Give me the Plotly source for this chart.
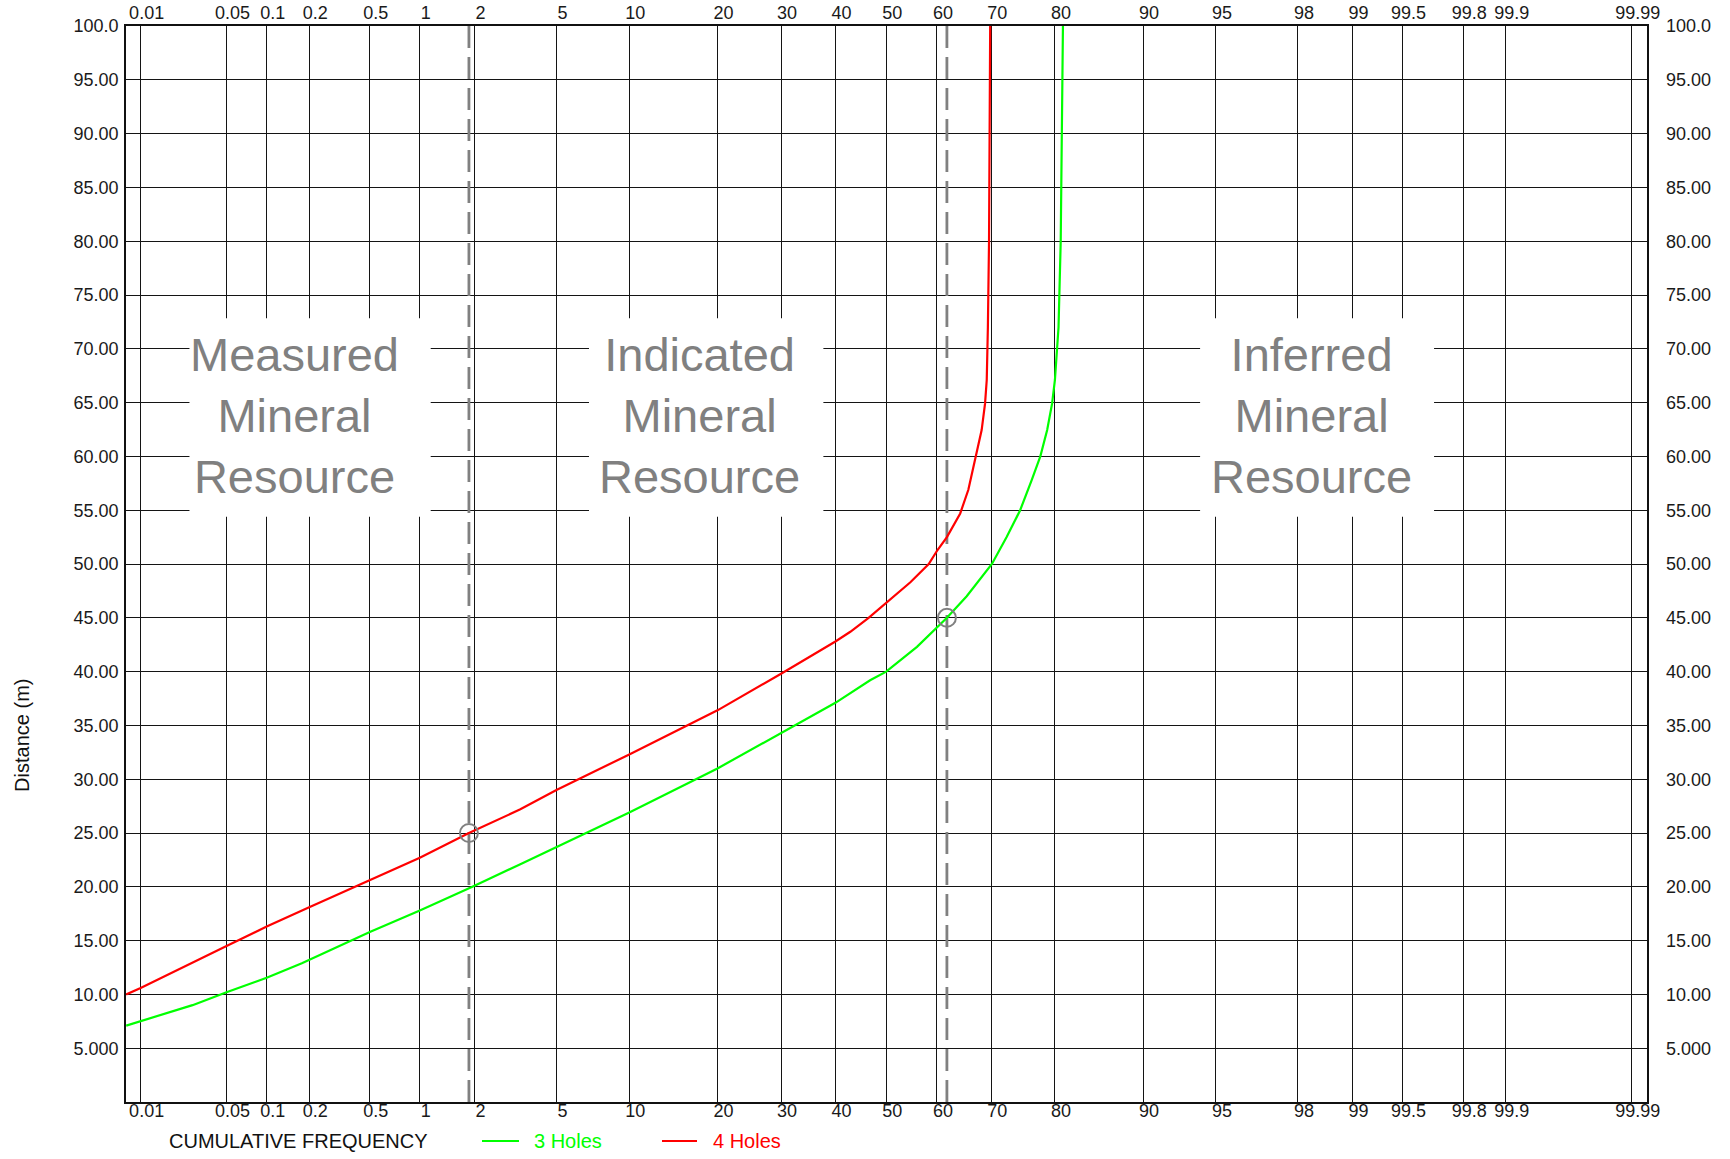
import plotly.graph_objects as go
from statistics import NormalDist

_nd = NormalDist()


def z(p):
    return _nd.inv_cdf(p / 100.0)


# ---------------- data ----------------
prob_ticks = [0.01, 0.05, 0.1, 0.2, 0.5, 1, 2, 5, 10, 20, 30, 40, 50, 60, 70, 80,
              90, 95, 98, 99, 99.5, 99.8, 99.9, 99.99]
prob_labels = ["0.01", "0.05", "0.1", "0.2", "0.5", "1", "2", "5", "10", "20", "30",
               "40", "50", "60", "70", "80", "90", "95", "98", "99", "99.5", "99.8",
               "99.9", "99.99"]
dist_ticks = [5, 10, 15, 20, 25, 30, 35, 40, 45, 50, 55, 60, 65, 70, 75, 80, 85, 90, 95, 100]
dist_labels = ["5.000", "10.00", "15.00", "20.00", "25.00", "30.00", "35.00", "40.00",
               "45.00", "50.00", "55.00", "60.00", "65.00", "70.00", "75.00", "80.00",
               "85.00", "90.00", "95.00", "100.0"]

# 3 Holes (green): cumulative frequency (%) vs distance (m)
holes3_pct = [0.0075, 0.01, 0.027, 0.05, 0.1, 0.178, 0.5, 1, 1.95, 3.4, 5, 10, 20, 30,
              40, 46.8, 50.0, 56.1, 60.1, 61.9, 65.6, 70.1, 72.6, 74.8, 76.6, 77.9,
              78.9, 79.6, 80.0, 80.5, 80.8, 81.0, 81.1]
holes3_dist = [7.1, 7.5, 9.0, 10.2, 11.55, 12.9, 15.8, 17.8, 20.0, 22.1, 23.7, 26.9, 31.0,
               34.3, 37.1, 39.2, 40.0, 42.3, 44.2, 45.0, 47.0, 50.0, 52.5, 55.0, 57.8,
               60.0, 62.45, 64.9, 67.1, 72.0, 80.0, 90.0, 100.0]

# 4 Holes (red)
holes4_pct = [0.0075, 0.01, 0.05, 0.1, 0.2, 0.5, 1, 1.87, 3.4, 5, 10, 20, 30, 40, 42.9,
              46.5, 50.0, 54.8, 58.4, 60.1, 61.9, 64.4, 65.9, 67.3, 68.3, 68.9, 69.2,
              69.4, 69.6, 69.7, 69.8]
holes4_dist = [10.0, 10.6, 14.5, 16.3, 18.1, 20.6, 22.7, 25.0, 27.2, 29.0, 32.3, 36.4,
               39.8, 42.8, 43.7, 45.0, 46.4, 48.3, 50.0, 51.3, 52.5, 54.7, 56.9, 60.0,
               62.45, 64.9, 67.1, 72.0, 80.0, 90.0, 100.0]

# resource class cut-offs and their marked intersections
cutoff_pct = [1.87, 61.9]
marker_pct = [1.87, 61.9]
marker_dist = [25.0, 45.0]

region_labels = ["Measured<br>Mineral<br>Resource",
                 "Indicated<br>Mineral<br>Resource",
                 "Inferred<br>Mineral<br>Resource"]
region_center_pct = [0.158, 17.6, 98.3]
region_box_pct = [(0.0255, 1.154), (6.91, 37.7), (94.13, 99.686)]
region_box_dist = (54.4, 72.85)
region_text_dist = 63.8

# ---------------- figure ----------------
FONT = "Liberation Sans, Arial, Helvetica, sans-serif"
GRID = "#141414"
GRAY = "#808080"

xr = [-3.792, 3.795]
yr = [0, 100]

fig = go.Figure()

# cut-off dashed lines
for c in cutoff_pct:
    fig.add_trace(go.Scatter(x=[z(c), z(c)], y=yr, mode="lines",
                             line=dict(color=GRAY, width=2.8, dash="22px,9px"),
                             showlegend=False, hoverinfo="skip"))

fig.add_trace(go.Scatter(x=[z(p) for p in holes3_pct], y=holes3_dist, mode="lines",
                         line=dict(color="#00ff00", width=2.2), name="3 Holes",
                         showlegend=False))
fig.add_trace(go.Scatter(x=[z(p) for p in holes4_pct], y=holes4_dist, mode="lines",
                         line=dict(color="#ff0000", width=2.2), name="4 Holes",
                         showlegend=False))
fig.add_trace(go.Scatter(x=[z(p) for p in marker_pct], y=marker_dist, mode="markers",
                         marker=dict(symbol="circle-open", size=18,
                                     line=dict(color=GRAY, width=2), color=GRAY),
                         showlegend=False, hoverinfo="skip"))
# invisible trace anchoring the mirrored (top / right) axes
fig.add_trace(go.Scatter(x=[z(p) for p in marker_pct], y=marker_dist, xaxis="x2",
                         yaxis="y2", mode="markers", marker=dict(opacity=0),
                         showlegend=False, hoverinfo="skip"))

xt = [z(p) for p in prob_ticks]
TICKFONT = dict(family=FONT, size=18, color="#1a1a1a")
common_x = dict(range=xr, tickvals=xt, ticktext=prob_labels, ticks="",
                tickfont=TICKFONT, ticklabelshift=6, zeroline=False, automargin=False)
common_y = dict(range=yr, tickvals=dist_ticks, ticktext=dist_labels, ticks="",
                zeroline=False, tickfont=TICKFONT, automargin=False)

fig.update_layout(
    width=1730, height=1159,
    margin=dict(l=126, r=83, t=26, b=57, autoexpand=False),
    paper_bgcolor="white", plot_bgcolor="white",
    xaxis=dict(**common_x, showgrid=True, gridcolor=GRID, gridwidth=1.4,
               showline=True, linecolor="#111", linewidth=1.6, mirror=True,
               ticklabelstandoff=-8),
    xaxis2=dict(**common_x, overlaying="x", side="top", matches="x",
                showgrid=False, showline=False, ticklabelstandoff=2),
    yaxis=dict(**common_y, showgrid=True, gridcolor=GRID, gridwidth=1.4,
               showline=True, linecolor="#111", linewidth=1.6, mirror=True,
               ticklabelstandoff=2),
    yaxis2=dict(**common_y, overlaying="y", side="right", matches="y",
                showgrid=False, showline=False, ticklabelstandoff=18),
    hovermode=False,
)

# white label boxes and region labels
for (p0, p1), cp, txt in zip(region_box_pct, region_center_pct, region_labels):
    fig.add_shape(type="rect", xref="x", yref="y", x0=z(p0), x1=z(p1),
                  y0=region_box_dist[0], y1=region_box_dist[1],
                  fillcolor="white", line=dict(width=0), layer="between")
    fig.add_annotation(x=z(cp), y=region_text_dist, xref="x", yref="y", text=txt,
                       showarrow=False, xanchor="center", yanchor="middle",
                       font=dict(family=FONT, size=47, color=GRAY))

# axis titles
LEG_Y = (1102 - 1141) / 1076
fig.add_annotation(x=-0.0685, y=0.341, xref="paper", yref="paper", text="Distance (m)",
                   textangle=-90, showarrow=False, xanchor="center", yanchor="middle",
                   font=dict(family=FONT, size=20, color="#111"))
fig.add_annotation(x=(167 - 126) / 1521, y=LEG_Y, xref="paper", yref="paper",
                   text="CUMULATIVE FREQUENCY", showarrow=False, xanchor="left",
                   yanchor="middle", font=dict(family=FONT, size=20, color="#111"))

# manual legend
legend_items = [("3 Holes", "#00ff00", 482, 519, 532), ("4 Holes", "#ff0000", 662, 697, 711)]
for name, col, l0, l1, tx in legend_items:
    fig.add_shape(type="line", xref="paper", yref="paper",
                  x0=(l0 - 126) / 1521, x1=(l1 - 126) / 1521, y0=LEG_Y, y1=LEG_Y,
                  line=dict(color=col, width=2.2))
    fig.add_annotation(x=(tx - 126) / 1521, y=LEG_Y, xref="paper",
                       yref="paper", text=name, showarrow=False, xanchor="left",
                       yanchor="middle", font=dict(family=FONT, size=20, color=col))

fig.write_html("out.html", config={"displayModeBar": False},
               post_script="document.body.style.margin='0px';"
                           "document.body.style.overflow='hidden';")
